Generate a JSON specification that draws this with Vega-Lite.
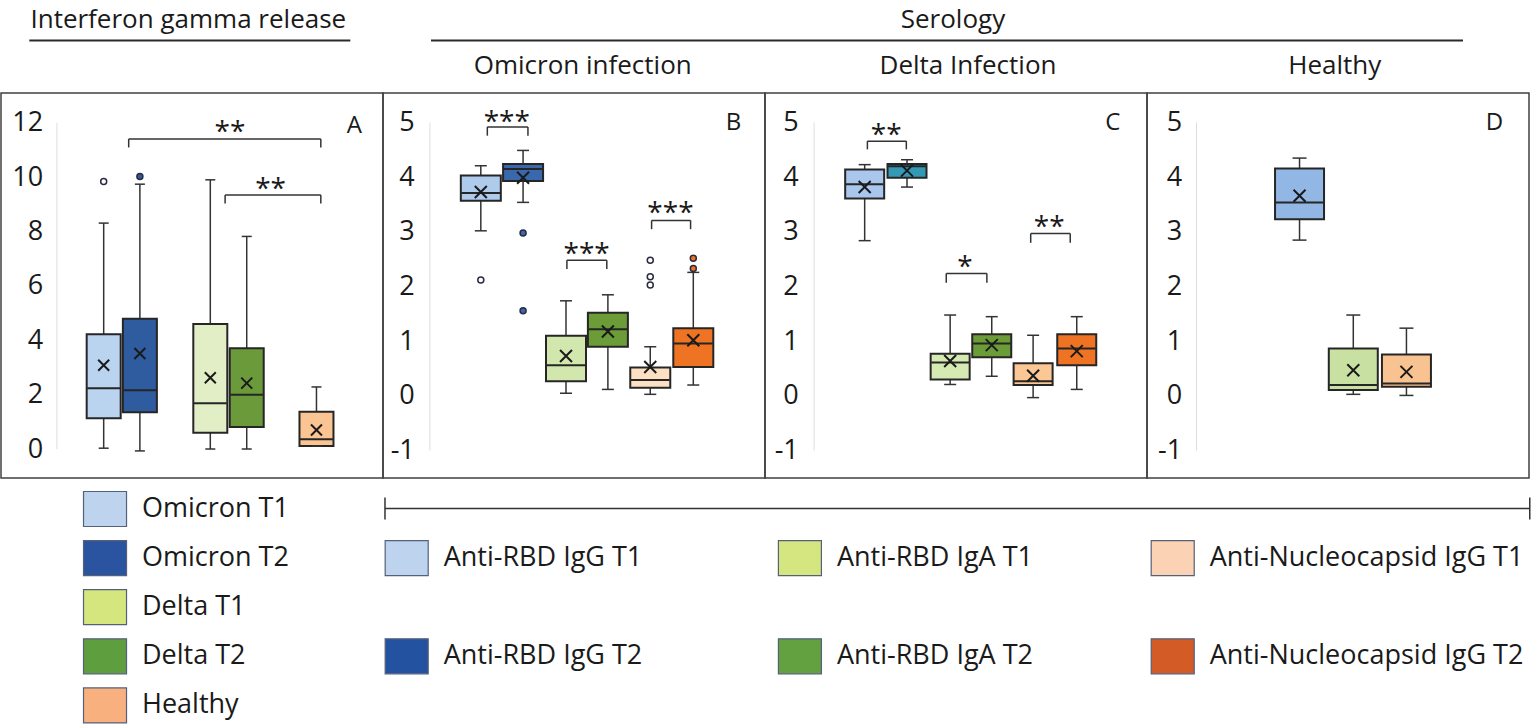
{
  "$schema": "https://vega.github.io/schema/vega-lite/v6.json",
  "padding": 0,
  "spacing": 0,
  "background": "white",
  "config": {"font": "Open Sans", "view": {"stroke": null}, "concat": {"spacing": 0}},
  "datasets": {
    "boxes": [
      {"p":"A","key":"A Omicron T1","x":2.626,"lo":0.04,"q1":1.14,"med":2.24,"q3":4.23,"hi":8.31,"mean":3.09},
      {"p":"A","key":"A Omicron T2","x":3.599,"lo":-0.06,"q1":1.36,"med":2.17,"q3":4.80,"hi":9.74,"mean":3.52},
      {"p":"A","key":"A Delta T1","x":5.492,"lo":0.01,"q1":0.61,"med":1.69,"q3":4.60,"hi":9.90,"mean":2.63},
      {"p":"A","key":"A Delta T2","x":6.471,"lo":0.01,"q1":0.82,"med":2.00,"q3":3.71,"hi":7.82,"mean":2.43},
      {"p":"A","key":"A Healthy","x":8.346,"lo":0.12,"q1":0.12,"med":0.37,"q3":1.38,"hi":2.29,"mean":0.71},
      {"p":"B","key":"B IgG T1","x":2.495,"lo":3.02,"q1":3.57,"med":3.71,"q3":4.03,"hi":4.21,"mean":3.73},
      {"p":"B","key":"B IgG T2","x":3.631,"lo":3.54,"q1":3.93,"med":4.15,"q3":4.24,"hi":4.49,"mean":3.99},
      {"p":"B","key":"B IgA T1","x":4.785,"lo":0.05,"q1":0.27,"med":0.56,"q3":1.10,"hi":1.74,"mean":0.73},
      {"p":"B","key":"B IgA T2","x":5.911,"lo":0.12,"q1":0.90,"med":1.22,"q3":1.52,"hi":1.85,"mean":1.18},
      {"p":"B","key":"B N T1","x":7.050,"lo":0.03,"q1":0.15,"med":0.29,"q3":0.52,"hi":0.90,"mean":0.53},
      {"p":"B","key":"B N T2","x":8.207,"lo":0.20,"q1":0.53,"med":0.96,"q3":1.24,"hi":2.26,"mean":1.02},
      {"p":"C","key":"C IgG T1","x":2.545,"lo":2.84,"q1":3.61,"med":3.87,"q3":4.14,"hi":4.23,"mean":3.82},
      {"p":"C","key":"C IgG T2","x":3.683,"lo":3.82,"q1":3.99,"med":4.20,"q3":4.24,"hi":4.32,"mean":4.12},
      {"p":"C","key":"C IgA T1","x":4.843,"lo":0.21,"q1":0.30,"med":0.61,"q3":0.77,"hi":1.48,"mean":0.64},
      {"p":"C","key":"C IgA T2","x":5.961,"lo":0.36,"q1":0.71,"med":0.96,"q3":1.13,"hi":1.45,"mean":0.93},
      {"p":"C","key":"C N T1","x":7.073,"lo":-0.03,"q1":0.20,"med":0.27,"q3":0.60,"hi":1.11,"mean":0.37},
      {"p":"C","key":"C N T2","x":8.246,"lo":0.12,"q1":0.56,"med":0.87,"q3":1.13,"hi":1.45,"mean":0.82},
      {"p":"D","key":"D IgG T1","x":3.966,"lo":2.85,"q1":3.23,"med":3.54,"q3":4.16,"hi":4.35,"mean":3.66},
      {"p":"D","key":"D IgA T1","x":5.411,"lo":0.03,"q1":0.11,"med":0.20,"q3":0.87,"hi":1.48,"mean":0.47},
      {"p":"D","key":"D N T1","x":6.840,"lo":0.01,"q1":0.17,"med":0.23,"q3":0.76,"hi":1.24,"mean":0.44}
    ],
    "outliers": [
      {"p":"A","key":"A Omicron T1","t":"T1","x":2.626,"v":9.84},
      {"p":"A","key":"A Omicron T2","t":"T2","x":3.599,"v":10.02},
      {"p":"B","key":"B IgG T1","t":"T1","x":2.495,"v":2.12},
      {"p":"B","key":"B IgG T2","t":"T2","x":3.631,"v":2.98},
      {"p":"B","key":"B IgG T2","t":"T2","x":3.631,"v":1.56},
      {"p":"B","key":"B N T1","t":"T1","x":7.050,"v":2.48},
      {"p":"B","key":"B N T1","t":"T1","x":7.050,"v":2.18},
      {"p":"B","key":"B N T1","t":"T1","x":7.050,"v":2.03},
      {"p":"B","key":"B N T2","t":"T2","x":8.207,"v":2.52},
      {"p":"B","key":"B N T2","t":"T2","x":8.207,"v":2.33}
    ],
    "brackets": [
      {"p":"A","x1":3.298,"x2":8.463,"top":11.40,"leg":11.09,"tx":6.021,"ty":11.89,"label":"**"},
      {"p":"A","x1":5.890,"x2":8.463,"top":9.34,"leg":9.03,"tx":7.113,"ty":9.80,"label":"**"},
      {"p":"B","x1":2.670,"x2":3.762,"top":4.92,"leg":4.76,"tx":3.194,"ty":5.12,"label":"***"},
      {"p":"B","x1":4.809,"x2":5.882,"top":2.48,"leg":2.32,"tx":5.340,"ty":2.71,"label":"***"},
      {"p":"B","x1":7.086,"x2":8.134,"top":3.21,"leg":3.05,"tx":7.592,"ty":3.45,"label":"***"},
      {"p":"C","x1":2.618,"x2":3.665,"top":4.66,"leg":4.51,"tx":3.123,"ty":4.88,"label":"**"},
      {"p":"C","x1":4.738,"x2":5.830,"top":2.24,"leg":2.07,"tx":5.244,"ty":2.47,"label":"*"},
      {"p":"C","x1":7.008,"x2":8.071,"top":2.97,"leg":2.80,"tx":7.505,"ty":3.20,"label":"**"}
    ],
    "headerText": [
      {"label":"Interferon gamma release","x":0.4903,"y":0.30},
      {"label":"Serology","x":2.4921,"y":0.30},
      {"label":"Omicron infection","x":1.5228,"y":0.80},
      {"label":"Delta Infection","x":2.5314,"y":0.80},
      {"label":"Healthy","x":3.4916,"y":0.80}
    ],
    "headerRules": [
      {"x1":0.0741,"x2":0.9144,"y":0.44},
      {"x1":1.1257,"x2":3.8272,"y":0.44}
    ],
    "legend": [
      {"label":"Omicron T1","x":0.2723,"row":1},
      {"label":"Omicron T2","x":0.2723,"row":2},
      {"label":"Delta T1","x":0.2723,"row":3},
      {"label":"Delta T2","x":0.2723,"row":4},
      {"label":"Healthy","x":0.2723,"row":5},
      {"label":"Anti-RBD IgG T1","x":1.062,"row":2},
      {"label":"Anti-RBD IgG T2","x":1.062,"row":4},
      {"label":"Anti-RBD IgA T1","x":2.0914,"row":2},
      {"label":"Anti-RBD IgA T2","x":2.0914,"row":4},
      {"label":"Anti-Nucleocapsid IgG T1","x":3.0673,"row":2},
      {"label":"Anti-Nucleocapsid IgG T2","x":3.0673,"row":4}
    ]
  },
  "vconcat": [
    {
      "width": 1528, "height": 92,
      "layer": [
        {"data": {"name": "headerText"},
         "mark": {"type": "text", "fontSize": 26, "color": "#1a1a1a", "baseline": "alphabetic", "align": "center"},
         "encoding": {
           "x": {"field": "x", "type": "quantitative", "scale": {"domain": [0, 4], "nice": false, "zero": false}, "axis": null},
           "y": {"field": "y", "type": "quantitative", "scale": {"domain": [0, 1], "reverse": true, "nice": false, "zero": false}, "axis": null},
           "text": {"field": "label"}}},
        {"data": {"name": "headerRules"},
         "mark": {"type": "rule", "color": "#2a2a2a", "strokeWidth": 2},
         "encoding": {"x": {"field": "x1", "type": "quantitative"}, "x2": {"field": "x2"}, "y": {"field": "y", "type": "quantitative"}}}
      ]
    },
    {
      "spacing": 0,
      "bounds": "flush",
      "hconcat": [
        {
          "width": 382, "height": 385,
          "view": {"stroke": "#404040", "strokeWidth": 1.5},
          "layer": [
            {"data": {"values": [{}]}, "mark": {"type": "rule", "color": "#dddddd", "strokeWidth": 1},
             "encoding": {
               "x": {"datum": 1.369, "type": "quantitative", "scale": {"domain": [0, 10], "nice": false, "zero": false}, "axis": null},
               "y": {"datum": 0, "type": "quantitative", "scale": {"domain": [-1.055, 13.09], "nice": false, "zero": false},
                     "axis": {"values": [0, 2, 4, 6, 8, 10, 12], "offset": -45.7, "domain": false, "ticks": false, "tickSize": 0, "grid": false, "labelPadding": 4, "labelFontSize": 27, "labelColor": "#1a1a1a", "title": null, "labelExpr": "datum.value < 0 ? '-' + abs(datum.value) : '' + datum.value"}},
               "y2": {"datum": 12}}},
            {"data": {"name": "boxes"}, "transform": [{"filter": "datum.p == 'A'"}],
             "encoding": {"x": {"field": "x", "type": "quantitative"}},
             "layer": [
               {"mark": {"type": "rule", "color": "#333333", "strokeWidth": 1.5}, "encoding": {"y": {"field": "lo", "type": "quantitative"}, "y2": {"field": "hi"}}},
               {"mark": {"type": "bar", "size": 34, "orient": "vertical", "stroke": "#262626", "strokeWidth": 2},
                "encoding": {"y": {"field": "q1", "type": "quantitative"}, "y2": {"field": "q3"},
                  "fill": {"field": "key", "type": "nominal", "legend": null, "scale": {"domain": ["A Omicron T1","A Omicron T2","A Delta T1","A Delta T2","A Healthy","B IgG T1","B IgG T2","B IgA T1","B IgA T2","B N T1","B N T2","C IgG T1","C IgG T2","C IgA T1","C IgA T2","C N T1","C N T2","D IgG T1","D IgA T1","D N T1","Omicron T1","Omicron T2","Delta T1","Delta T2","Healthy","Anti-RBD IgG T1","Anti-RBD IgG T2","Anti-RBD IgA T1","Anti-RBD IgA T2","Anti-Nucleocapsid IgG T1","Anti-Nucleocapsid IgG T2"], "range": ["#BAD3EF","#2F5C9E","#E2EEC6","#6B9A3A","#FAC493","#AECBEC","#3A68AD","#D2E7AD","#6C9C38","#FDE0C4","#EE7322","#A9C6EC","#3399B4","#D5EAB2","#6C9C38","#FAC795","#EE7322","#92B7E4","#C8E1A3","#F9C291","#BDD3EE","#2A54A0","#D5E67E","#5E9E3E","#F7B07E","#BDD3EE","#2352A0","#D5E680","#62A040","#FCD2B5","#D35B25"]}}}},
               {"mark": {"type": "tick", "orient": "horizontal", "size": 33, "thickness": 2, "color": "#262626", "opacity": 1}, "encoding": {"y": {"field": "med", "type": "quantitative"}}},
               {"mark": {"type": "tick", "orient": "horizontal", "size": 10, "thickness": 1.5, "color": "#333333", "opacity": 1}, "encoding": {"y": {"field": "lo", "type": "quantitative"}}},
               {"mark": {"type": "tick", "orient": "horizontal", "size": 10, "thickness": 1.5, "color": "#333333", "opacity": 1}, "encoding": {"y": {"field": "hi", "type": "quantitative"}}},
               {"mark": {"type": "point", "shape": "M-1,-1L1,1M1,-1L-1,1", "size": 121, "filled": false, "stroke": "#1a1a1a", "strokeWidth": 2, "opacity": 1}, "encoding": {"y": {"field": "mean", "type": "quantitative"}}}
             ]},
            {"data": {"name": "outliers"}, "transform": [{"filter": "datum.p == 'A'"}],
             "mark": {"type": "point", "shape": "circle", "size": 36, "filled": true, "stroke": "#2a2a40", "strokeWidth": 1.5, "opacity": 1},
             "encoding": {"x": {"field": "x", "type": "quantitative"}, "y": {"field": "v", "type": "quantitative"},
               "fill": {"condition": {"test": "datum.t == 'T1'", "value": "white"}, "field": "key", "type": "nominal", "legend": null}}},
            {"data": {"name": "brackets"}, "transform": [{"filter": "datum.p == 'A'"}],
             "layer": [
               {"mark": {"type": "rule", "color": "#333333", "strokeWidth": 1.5}, "encoding": {"x": {"field": "x1", "type": "quantitative"}, "x2": {"field": "x2"}, "y": {"field": "top", "type": "quantitative"}}},
               {"mark": {"type": "rule", "color": "#333333", "strokeWidth": 1.5}, "encoding": {"x": {"field": "x1", "type": "quantitative"}, "y": {"field": "top", "type": "quantitative"}, "y2": {"field": "leg"}}},
               {"mark": {"type": "rule", "color": "#333333", "strokeWidth": 1.5}, "encoding": {"x": {"field": "x2", "type": "quantitative"}, "y": {"field": "top", "type": "quantitative"}, "y2": {"field": "leg"}}},
               {"mark": {"type": "text", "fontSize": 28, "baseline": "alphabetic", "dy": 15, "align": "center", "color": "#1a1a1a"}, "encoding": {"x": {"field": "tx", "type": "quantitative"}, "y": {"field": "ty", "type": "quantitative"}, "text": {"field": "label"}}}
             ]},
            {"data": {"values": [{}]}, "mark": {"type": "text", "fontSize": 24, "baseline": "middle", "align": "center", "color": "#1a1a1a"},
             "encoding": {"x": {"datum": 9.364, "type": "quantitative"}, "y": {"datum": 11.89, "type": "quantitative"}, "text": {"value": "A"}}}
          ]
        },
        {
          "width": 382, "height": 385,
          "view": {"stroke": "#404040", "strokeWidth": 1.5},
          "layer": [
            {"data": {"values": [{}]}, "mark": {"type": "rule", "color": "#dddddd", "strokeWidth": 1},
             "encoding": {
               "x": {"datum": 1.126, "type": "quantitative", "scale": {"domain": [0, 10], "nice": false, "zero": false}, "axis": null},
               "y": {"datum": -1, "type": "quantitative", "scale": {"domain": [-1.5, 5.54], "nice": false, "zero": false},
                     "axis": {"values": [-1, 0, 1, 2, 3, 4, 5], "offset": -35.3, "domain": false, "ticks": false, "tickSize": 0, "grid": false, "labelPadding": 4, "labelFontSize": 27, "labelColor": "#1a1a1a", "title": null, "labelExpr": "datum.value < 0 ? '-' + abs(datum.value) : '' + datum.value"}},
               "y2": {"datum": 5}}},
            {"data": {"name": "boxes"}, "transform": [{"filter": "datum.p == 'B'"}],
             "encoding": {"x": {"field": "x", "type": "quantitative"}},
             "layer": [
               {"mark": {"type": "rule", "color": "#333333", "strokeWidth": 1.5}, "encoding": {"y": {"field": "lo", "type": "quantitative"}, "y2": {"field": "hi"}}},
               {"mark": {"type": "bar", "size": 40, "orient": "vertical", "stroke": "#262626", "strokeWidth": 2},
                "encoding": {"y": {"field": "q1", "type": "quantitative"}, "y2": {"field": "q3"},
                  "fill": {"field": "key", "type": "nominal", "legend": null}}},
               {"mark": {"type": "tick", "orient": "horizontal", "size": 39, "thickness": 2, "color": "#262626", "opacity": 1}, "encoding": {"y": {"field": "med", "type": "quantitative"}}},
               {"mark": {"type": "tick", "orient": "horizontal", "size": 12, "thickness": 1.5, "color": "#333333", "opacity": 1}, "encoding": {"y": {"field": "lo", "type": "quantitative"}}},
               {"mark": {"type": "tick", "orient": "horizontal", "size": 12, "thickness": 1.5, "color": "#333333", "opacity": 1}, "encoding": {"y": {"field": "hi", "type": "quantitative"}}},
               {"mark": {"type": "point", "shape": "M-1,-1L1,1M1,-1L-1,1", "size": 144, "filled": false, "stroke": "#1a1a1a", "strokeWidth": 2, "opacity": 1}, "encoding": {"y": {"field": "mean", "type": "quantitative"}}}
             ]},
            {"data": {"name": "outliers"}, "transform": [{"filter": "datum.p == 'B'"}],
             "mark": {"type": "point", "shape": "circle", "size": 36, "filled": true, "stroke": "#2a2a40", "strokeWidth": 1.5, "opacity": 1},
             "encoding": {"x": {"field": "x", "type": "quantitative"}, "y": {"field": "v", "type": "quantitative"},
               "fill": {"condition": {"test": "datum.t == 'T1'", "value": "white"}, "field": "key", "type": "nominal", "legend": null}}},
            {"data": {"name": "brackets"}, "transform": [{"filter": "datum.p == 'B'"}],
             "layer": [
               {"mark": {"type": "rule", "color": "#333333", "strokeWidth": 1.5}, "encoding": {"x": {"field": "x1", "type": "quantitative"}, "x2": {"field": "x2"}, "y": {"field": "top", "type": "quantitative"}}},
               {"mark": {"type": "rule", "color": "#333333", "strokeWidth": 1.5}, "encoding": {"x": {"field": "x1", "type": "quantitative"}, "y": {"field": "top", "type": "quantitative"}, "y2": {"field": "leg"}}},
               {"mark": {"type": "rule", "color": "#333333", "strokeWidth": 1.5}, "encoding": {"x": {"field": "x2", "type": "quantitative"}, "y": {"field": "top", "type": "quantitative"}, "y2": {"field": "leg"}}},
               {"mark": {"type": "text", "fontSize": 28, "baseline": "alphabetic", "dy": 15, "align": "center", "color": "#1a1a1a"}, "encoding": {"x": {"field": "tx", "type": "quantitative"}, "y": {"field": "ty", "type": "quantitative"}, "text": {"field": "label"}}}
             ]},
            {"data": {"values": [{}]}, "mark": {"type": "text", "fontSize": 24, "baseline": "middle", "align": "center", "color": "#1a1a1a"},
             "encoding": {"x": {"datum": 9.285, "type": "quantitative"}, "y": {"datum": 5.0, "type": "quantitative"}, "text": {"value": "B"}}}
          ]
        },
        {
          "width": 382, "height": 385,
          "view": {"stroke": "#404040", "strokeWidth": 1.5},
          "layer": [
            {"data": {"values": [{}]}, "mark": {"type": "rule", "color": "#dddddd", "strokeWidth": 1},
             "encoding": {
               "x": {"datum": 1.186, "type": "quantitative", "scale": {"domain": [0, 10], "nice": false, "zero": false}, "axis": null},
               "y": {"datum": -1, "type": "quantitative", "scale": {"domain": [-1.5, 5.54], "nice": false, "zero": false},
                     "axis": {"values": [-1, 0, 1, 2, 3, 4, 5], "offset": -37.3, "domain": false, "ticks": false, "tickSize": 0, "grid": false, "labelPadding": 4, "labelFontSize": 27, "labelColor": "#1a1a1a", "title": null, "labelExpr": "datum.value < 0 ? '-' + abs(datum.value) : '' + datum.value"}},
               "y2": {"datum": 5}}},
            {"data": {"name": "boxes"}, "transform": [{"filter": "datum.p == 'C'"}],
             "encoding": {"x": {"field": "x", "type": "quantitative"}},
             "layer": [
               {"mark": {"type": "rule", "color": "#333333", "strokeWidth": 1.5}, "encoding": {"y": {"field": "lo", "type": "quantitative"}, "y2": {"field": "hi"}}},
               {"mark": {"type": "bar", "size": 39, "orient": "vertical", "stroke": "#262626", "strokeWidth": 2},
                "encoding": {"y": {"field": "q1", "type": "quantitative"}, "y2": {"field": "q3"},
                  "fill": {"field": "key", "type": "nominal", "legend": null}}},
               {"mark": {"type": "tick", "orient": "horizontal", "size": 38, "thickness": 2, "color": "#262626", "opacity": 1}, "encoding": {"y": {"field": "med", "type": "quantitative"}}},
               {"mark": {"type": "tick", "orient": "horizontal", "size": 12, "thickness": 1.5, "color": "#333333", "opacity": 1}, "encoding": {"y": {"field": "lo", "type": "quantitative"}}},
               {"mark": {"type": "tick", "orient": "horizontal", "size": 12, "thickness": 1.5, "color": "#333333", "opacity": 1}, "encoding": {"y": {"field": "hi", "type": "quantitative"}}},
               {"mark": {"type": "point", "shape": "M-1,-1L1,1M1,-1L-1,1", "size": 144, "filled": false, "stroke": "#1a1a1a", "strokeWidth": 2, "opacity": 1}, "encoding": {"y": {"field": "mean", "type": "quantitative"}}}
             ]},
            {"data": {"name": "brackets"}, "transform": [{"filter": "datum.p == 'C'"}],
             "layer": [
               {"mark": {"type": "rule", "color": "#333333", "strokeWidth": 1.5}, "encoding": {"x": {"field": "x1", "type": "quantitative"}, "x2": {"field": "x2"}, "y": {"field": "top", "type": "quantitative"}}},
               {"mark": {"type": "rule", "color": "#333333", "strokeWidth": 1.5}, "encoding": {"x": {"field": "x1", "type": "quantitative"}, "y": {"field": "top", "type": "quantitative"}, "y2": {"field": "leg"}}},
               {"mark": {"type": "rule", "color": "#333333", "strokeWidth": 1.5}, "encoding": {"x": {"field": "x2", "type": "quantitative"}, "y": {"field": "top", "type": "quantitative"}, "y2": {"field": "leg"}}},
               {"mark": {"type": "text", "fontSize": 28, "baseline": "alphabetic", "dy": 15, "align": "center", "color": "#1a1a1a"}, "encoding": {"x": {"field": "tx", "type": "quantitative"}, "y": {"field": "ty", "type": "quantitative"}, "text": {"field": "label"}}}
             ]},
            {"data": {"values": [{}]}, "mark": {"type": "text", "fontSize": 24, "baseline": "middle", "align": "center", "color": "#1a1a1a"},
             "encoding": {"x": {"datum": 9.215, "type": "quantitative"}, "y": {"datum": 5.0, "type": "quantitative"}, "text": {"value": "C"}}}
          ]
        },
        {
          "width": 382, "height": 385,
          "view": {"stroke": "#404040", "strokeWidth": 1.5},
          "layer": [
            {"data": {"values": [{}]}, "mark": {"type": "rule", "color": "#dddddd", "strokeWidth": 1},
             "encoding": {
               "x": {"datum": 1.196, "type": "quantitative", "scale": {"domain": [0, 10], "nice": false, "zero": false}, "axis": null},
               "y": {"datum": -1, "type": "quantitative", "scale": {"domain": [-1.5, 5.54], "nice": false, "zero": false},
                     "axis": {"values": [-1, 0, 1, 2, 3, 4, 5], "offset": -38.7, "domain": false, "ticks": false, "tickSize": 0, "grid": false, "labelPadding": 4, "labelFontSize": 27, "labelColor": "#1a1a1a", "title": null, "labelExpr": "datum.value < 0 ? '-' + abs(datum.value) : '' + datum.value"}},
               "y2": {"datum": 5}}},
            {"data": {"name": "boxes"}, "transform": [{"filter": "datum.p == 'D'"}],
             "encoding": {"x": {"field": "x", "type": "quantitative"}},
             "layer": [
               {"mark": {"type": "rule", "color": "#333333", "strokeWidth": 1.5}, "encoding": {"y": {"field": "lo", "type": "quantitative"}, "y2": {"field": "hi"}}},
               {"mark": {"type": "bar", "size": 49, "orient": "vertical", "stroke": "#262626", "strokeWidth": 2},
                "encoding": {"y": {"field": "q1", "type": "quantitative"}, "y2": {"field": "q3"},
                  "fill": {"field": "key", "type": "nominal", "legend": null}}},
               {"mark": {"type": "tick", "orient": "horizontal", "size": 48, "thickness": 2, "color": "#262626", "opacity": 1}, "encoding": {"y": {"field": "med", "type": "quantitative"}}},
               {"mark": {"type": "tick", "orient": "horizontal", "size": 14, "thickness": 1.5, "color": "#333333", "opacity": 1}, "encoding": {"y": {"field": "lo", "type": "quantitative"}}},
               {"mark": {"type": "tick", "orient": "horizontal", "size": 14, "thickness": 1.5, "color": "#333333", "opacity": 1}, "encoding": {"y": {"field": "hi", "type": "quantitative"}}},
               {"mark": {"type": "point", "shape": "M-1,-1L1,1M1,-1L-1,1", "size": 144, "filled": false, "stroke": "#1a1a1a", "strokeWidth": 2, "opacity": 1}, "encoding": {"y": {"field": "mean", "type": "quantitative"}}}
             ]},
            {"data": {"values": [{}]}, "mark": {"type": "text", "fontSize": 24, "baseline": "middle", "align": "center", "color": "#1a1a1a"},
             "encoding": {"x": {"datum": 9.206, "type": "quantitative"}, "y": {"datum": 5.0, "type": "quantitative"}, "text": {"value": "D"}}}
          ]
        }
      ]
    },
    {
      "width": 1528, "height": 250,
      "layer": [
        {"data": {"values": [{}]}, "mark": {"type": "rule", "color": "#333333", "strokeWidth": 1.5},
         "encoding": {
           "x": {"datum": 1.0052, "type": "quantitative", "scale": {"domain": [0, 4], "nice": false, "zero": false}, "axis": null},
           "x2": {"datum": 4.002},
           "y": {"datum": 0.99, "type": "quantitative", "scale": {"domain": [0.389, 5.481], "reverse": true, "nice": false, "zero": false}, "axis": null}}},
        {"data": {"values": [{}]}, "mark": {"type": "tick", "orient": "vertical", "size": 22, "thickness": 1.5, "color": "#333333", "opacity": 1},
         "encoding": {"x": {"datum": 1.0052, "type": "quantitative"}, "y": {"datum": 0.99, "type": "quantitative"}}},
        {"data": {"values": [{}]}, "mark": {"type": "tick", "orient": "vertical", "size": 22, "thickness": 1.5, "color": "#333333", "opacity": 1},
         "encoding": {"x": {"datum": 4.002, "type": "quantitative"}, "y": {"datum": 0.99, "type": "quantitative"}}},
        {"data": {"name": "legend"},
         "mark": {"type": "point", "shape": "M-1.229,-1H1.229V1H-1.229Z", "size": 1225, "filled": true, "stroke": "#55607a", "strokeWidth": 1.2, "opacity": 1},
         "encoding": {"x": {"field": "x", "type": "quantitative"}, "y": {"field": "row", "type": "quantitative"},
           "fill": {"field": "label", "type": "nominal", "legend": null}}},
        {"data": {"name": "legend"},
         "mark": {"type": "text", "align": "left", "baseline": "middle", "dx": 37, "fontSize": 27, "color": "#1a1a1a"},
         "encoding": {"x": {"field": "x", "type": "quantitative"}, "y": {"field": "row", "type": "quantitative"}, "text": {"field": "label"}}}
      ]
    }
  ]
}
